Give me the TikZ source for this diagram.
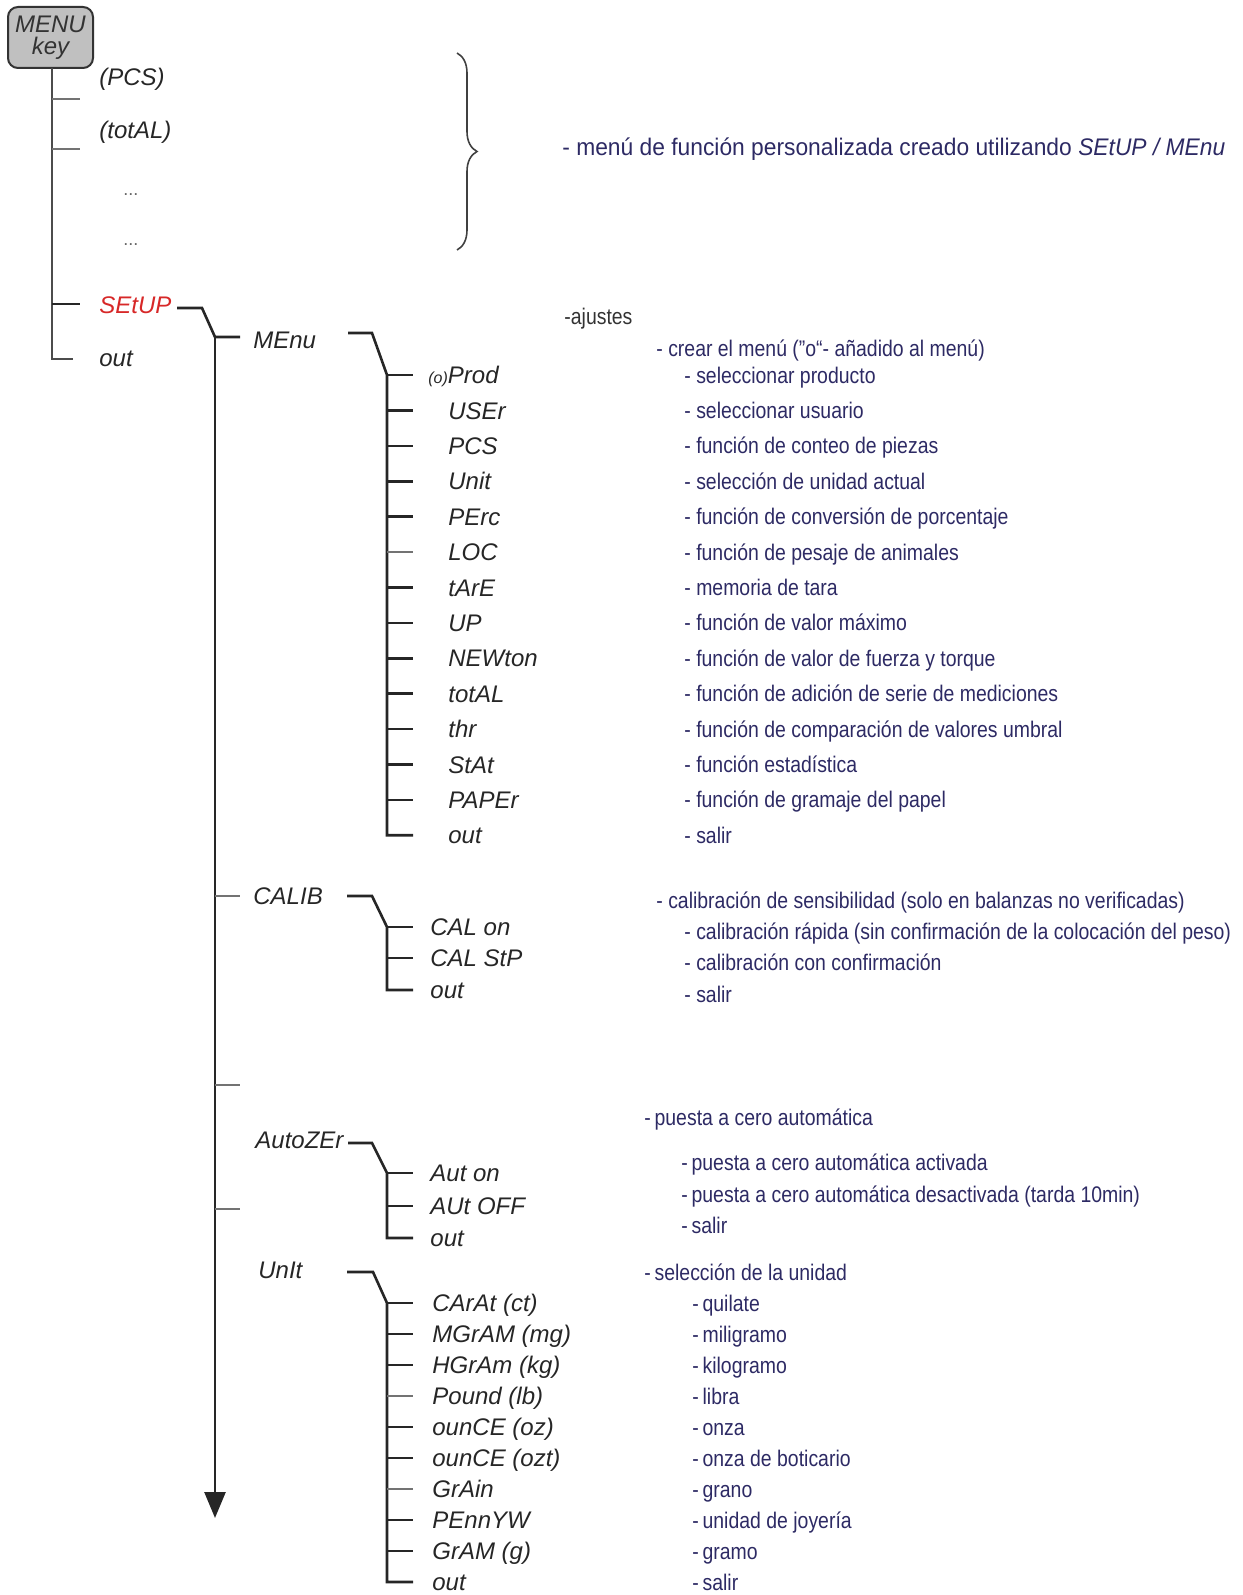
\documentclass[tikz,border=0pt]{standalone}
\usepackage{fontspec}
\setmainfont{Liberation Sans}
\newfontfamily\narrowfont[FakeStretch=0.86]{Liberation Sans}
\newfontfamily\semifont[FakeStretch=0.95]{Liberation Sans}
\usetikzlibrary{arrows.meta,decorations.pathreplacing}
\definecolor{navy}{RGB}{45,42,100}
\definecolor{setred}{RGB}{215,40,40}
\definecolor{keygray}{RGB}{192,192,192}
\begin{document}
\begin{tikzpicture}[x=0.5pt,y=-0.5pt,
  item/.style={anchor=west,inner sep=0pt,text height=8.6pt,text depth=0pt,
    font=\fontsize{12}{14}\selectfont\itshape,text=black!85},
  desc/.style={anchor=west,inner sep=0pt,text height=8.1pt,text depth=0pt,
    font=\narrowfont\fontsize{11.3}{13}\selectfont,text=navy},
  ln/.style={line width=1.3pt,draw=black!85},
  lnmid/.style={line width=1pt,draw=black!70},
  lnthin/.style={line width=0.7pt,draw=black!55},
]
\useasboundingbox (0,0) rectangle (1242,1595);

% ---------- MENU key and level 0 ----------
\node[draw=black!80,line width=1pt,fill=keygray,rounded corners=5pt,
  minimum width=42.5pt,minimum height=30.5pt,inner sep=0pt,align=center,
  font=\fontsize{12}{12}\selectfont\itshape,text=black!80] (key) at (50.5,37.5) {MENU\\[-1pt]key};

\node[item] (pcs) at (99,77) {(PCS)};
\node[item] (tot) at (99,130) {(totAL)};
\node[item,font=\fontsize{9}{9}\selectfont,text=black!60] (dots1) at (123,187) {...};
\node[item,font=\fontsize{9}{9}\selectfont,text=black!60] (dots2) at (123,237) {...};
\node[item,text=setred] (setup) at (99,305) {SEtUP};
\node[item] (out0) at (99,358) {out};

\coordinate (t0top) at (52,68);
\coordinate (t0bot) at (52,359);
\coordinate (t0x) at (80,0);
\draw[lnmid] (t0top) -- (t0bot) -- (73,359);
\draw[lnthin] (t0top |- 0,99) -- (t0x |- 0,99);
\draw[lnthin] (t0top |- 0,149) -- (t0x |- 0,149);
\draw[ln] (t0top |- 0,304) -- (t0x |- 0,304);

% brace
\coordinate (brtop) at (457,53);
\coordinate (brbot) at (457,250);
\draw[line width=0.8pt,black!75,decorate,decoration={brace,amplitude=10pt}] (brtop) -- (brbot);
\node[anchor=west,inner sep=0pt,text height=8.6pt,text depth=0pt,
  font=\semifont\fontsize{12}{14}\selectfont,text=navy] (custom) at (562,147)
  {- menú de función personalizada creado utilizando \textit{SEtUP / MEnu}};

% ---------- level 1 ----------
\coordinate (s1) at (177,308);
\coordinate (s2) at (202,308);
\coordinate (j1) at (215,337);
\coordinate (arrowend) at (215,1518);
\coordinate (t1x) at (240,0);
\draw[ln] (s1) -- (s2) -- (j1) -- (t1x |- j1);
\draw[ln,-{Triangle[width=10.5pt,length=13pt]}] (j1) -- (arrowend);

\node[item] (menu) at (253,340) {MEnu};
\node[item] (calib) at (253,896) {CALIB};
\node[item] (autoz) at (255,1140) {AutoZEr};
\node[item] (unit) at (258,1270) {UnIt};

\draw[lnthin] (j1 |- calib) -- (t1x |- calib);
\draw[lnthin] (j1 |- 0,1085) -- (t1x |- 0,1085);
\draw[lnthin] (j1 |- 0,1209) -- (t1x |- 0,1209);

% ---------- MEnu subtree ----------
\coordinate (m1) at (348,333);
\coordinate (m2) at (372,333);
\coordinate (mj) at (387,375);
\coordinate (tx) at (413,0);
\node[item] (p1) at (428,375) {{\fontsize{8}{8}\selectfont(o)}Prod};
\foreach \n/\t [count=\k from 2] in {USEr,PCS,Unit,PErc,LOC,tArE,UP,NEWton,totAL,thr,StAt,PAPEr,out}
  {\node[item] (p\k) at (448,{375+35.4*(\k-1)}) {\t};}
\draw[ln] (m1) -- (m2) -- (mj) -- (mj |- p14) -- (tx |- p14);
\foreach \k in {1,2,3,4,5,7,8,9,10,11,12,13}
  {\draw[ln] (mj |- p\k) -- (tx |- p\k);}
\draw[lnthin] (mj |- p6) -- (tx |- p6);

\node[desc,text=black!80] (dset) at (564,316) {-ajustes};
\node[desc] (dmenu) at (656,348) {- crear el menú (”o“- añadido al menú)};
\foreach \t [count=\k] in {seleccionar producto,seleccionar usuario,función de conteo de piezas,
  selección de unidad actual,función de conversión de porcentaje,función de pesaje de animales,
  memoria de tara,función de valor máximo,función de valor de fuerza y torque,
  función de adición de serie de mediciones,función de comparación de valores umbral,
  función estadística,función de gramaje del papel,salir}
  {\node[desc] (dp\k) at (684,{375+35.4*(\k-1)}) {- \t};}

% ---------- CALIB subtree ----------
\coordinate (c1) at (347,896);
\coordinate (c2) at (372,896);
\coordinate (cj) at (387,927);
\node[item] (ca1) at (430,927) {CAL on};
\node[item] (ca2) at (430,958) {CAL StP};
\node[item] (ca3) at (430,990) {out};
\draw[ln] (c1) -- (c2) -- (cj) -- (cj |- ca3) -- (tx |- ca3);
\draw[ln] (cj |- ca1) -- (tx |- ca1);
\draw[ln] (cj |- ca2) -- (tx |- ca2);
\node[desc] (dc0) at (656,900) {- calibración de sensibilidad (solo en balanzas no verificadas)};
\node[desc] (dc1) at (684,931) {- calibración rápida (sin confirmación de la colocación del peso)};
\node[desc] (dc2) at (684,962) {- calibración con confirmación};
\node[desc] (dc3) at (684,994) {- salir};

% ---------- AutoZEr subtree ----------
\coordinate (a1) at (348,1143);
\coordinate (a2) at (372,1143);
\coordinate (aj) at (387,1173);
\node[item] (au1) at (430,1173) {Aut on};
\node[item] (au2) at (430,1206) {AUt OFF};
\node[item] (au3) at (430,1238) {out};
\draw[ln] (a1) -- (a2) -- (aj) -- (aj |- au3) -- (tx |- au3);
\draw[ln] (aj |- au1) -- (tx |- au1);
\draw[ln] (aj |- au2) -- (tx |- au2);
\node[desc] (da0) at (644,1117) {-\,puesta a cero automática};
\node[desc] (da1) at (681,1162) {-\,puesta a cero automática activada};
\node[desc] (da2) at (681,1194) {-\,puesta a cero automática desactivada (tarda 10min)};
\node[desc] (da3) at (681,1225) {-\,salir};

% ---------- UnIt subtree ----------
\coordinate (u1) at (347,1272);
\coordinate (u2) at (373,1272);
\coordinate (uj) at (387,1303);
\foreach \t [count=\k] in {CArAt (ct),MGrAM (mg),HGrAm (kg),Pound (lb),ounCE (oz),
  ounCE (ozt),GrAin,PEnnYW,GrAM (g),out}
  {\node[item] (un\k) at (432,{1303+31*(\k-1)}) {\t};}
\draw[ln] (u1) -- (u2) -- (uj) -- (uj |- un10) -- (tx |- un10);
\foreach \k in {1,2,3,5,6,8,9}
  {\draw[ln] (uj |- un\k) -- (tx |- un\k);}
\foreach \k in {4,7}
  {\draw[lnthin] (uj |- un\k) -- (tx |- un\k);}
\node[desc] (du0) at (644,1272) {-\,selección de la unidad};
\foreach \t [count=\k] in {quilate,miligramo,kilogramo,libra,onza,onza de boticario,
  grano,unidad de joyería,gramo,salir}
  {\node[desc] (dun\k) at (692,{1303+31*(\k-1)}) {-\,\t};}
\end{tikzpicture}
\end{document}
